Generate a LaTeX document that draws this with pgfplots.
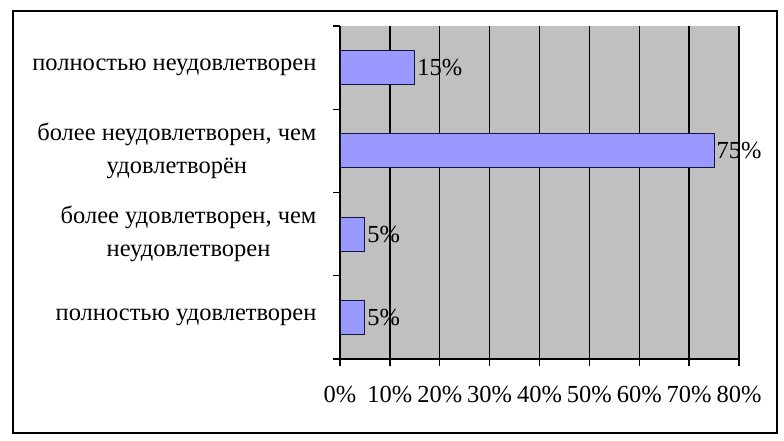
\documentclass[border=0pt]{standalone}
\usepackage{pgfplots}
\pgfplotsset{compat=1.18}
\usepackage{fontspec}
\setmainfont{Liberation Serif}
\definecolor{plotgray}{HTML}{C0C0C0}
\definecolor{barfill}{HTML}{9999FF}
\definecolor{barline}{HTML}{14143C}
\begin{document}
\begin{tikzpicture}
\path[use as bounding box] (0,0) rectangle (784pt,441pt);
\draw[black, line width=1.5pt] (13pt,8pt) rectangle (777pt,430pt);
\begin{axis}[
  at={(340pt,82pt)}, anchor=south west,
  scale only axis, width=399pt, height=333pt,
  xbar, bar width=34pt,
  xmin=0, xmax=80, ymin=-0.5, ymax=3.5,
  /pgf/number format/assume math mode=true,
  axis background/.style={fill=plotgray},
  axis x line*=bottom, axis y line*=left,
  axis line style={-, line width=1.3pt, black},
  xmajorgrids, major grid style={black, line width=1.3pt},
  xtick={0,10,...,80},
  xticklabels={0\%,10\%,20\%,30\%,40\%,50\%,60\%,70\%,80\%},
  ytick={0,1,2,3},
  yticklabels={полностью удовлетворен, {более удовлетворен, чем\\неудовлетворен}, {более неудовлетворен, чем\\удовлетворён}, полностью неудовлетворен},
  minor ytick={-0.5,0.5,1.5,2.5,3.5},
  tick align=outside,
  x tick style={black, line width=1.3pt},
  major tick length=7pt, minor tick length=7pt,
  ytick style={draw=none},
  minor y tick style={draw=black, line width=1.3pt},
  tick label style={font=\fontsize{24.5}{33}\selectfont},
  xticklabel style={yshift=-17pt},
  yticklabel style={align=center, xshift=-13pt},
  nodes near coords={\pgfmathprintnumber{\pgfplotspointmeta}\%},
  nodes near coords style={font=\fontsize{24.5}{33}\selectfont, anchor=west, inner sep=2pt, black},
  clip=false,
]
\addplot[fill=barfill, draw=barline, line width=1pt] coordinates {(5,0) (5,1) (75,2) (15,3)};
\end{axis}
\end{tikzpicture}
\end{document}
